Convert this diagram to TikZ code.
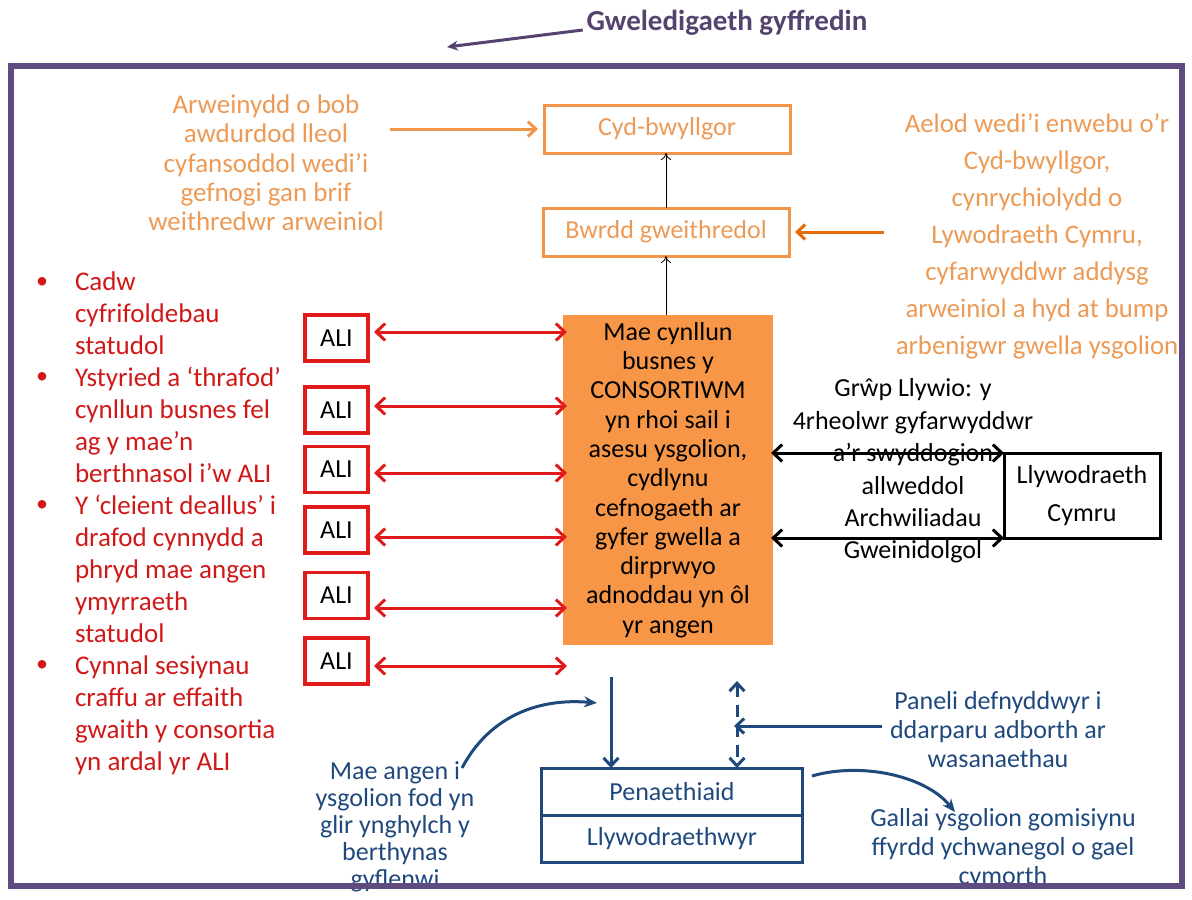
\documentclass[tikz,border=0pt]{standalone}
\usepackage{fontspec}
\setmainfont{Carlito}
\usetikzlibrary{arrows.meta}
\definecolor{framec}{HTML}{5E4B80}
\definecolor{ttlc}{HTML}{54436F}
\definecolor{orgfill}{HTML}{F79646}
\definecolor{orgtxt}{HTML}{EC9A55}
\definecolor{orgbox}{HTML}{F0954A}
\definecolor{orgdark}{HTML}{E46C0A}
\definecolor{redl}{HTML}{E01B1B}
\definecolor{redt}{HTML}{D01818}
\definecolor{blu}{HTML}{1F497D}
\begin{document}
\begin{tikzpicture}[x=1pt,y=-1pt,
  every node/.style={inner sep=0pt,outer sep=0pt},
  otextL/.style={text=orgtxt,font=\fontsize{27}{29.3}\selectfont,align=center},
  otextR/.style={text=orgtxt,font=\fontsize{26.8}{37}\selectfont,align=center},
  obox/.style={draw=orgbox,line width=3pt,text=orgtxt,font=\fontsize{26}{30}\selectfont,minimum width=246pt,minimum height=48pt},
  oarrow/.style={draw=orgbox,line width=3pt,-{Straight Barb[length=8pt,width=15pt]}},
  odarrow/.style={draw=orgdark,line width=3pt,-{Straight Barb[length=8pt,width=15pt]}},
  thinarrow/.style={draw=black,line width=0.8pt,-{To[length=7pt,width=10pt]}},
  redarrow/.style={draw=redl,line width=3pt,{Straight Barb[length=9pt,width=17pt]}-{Straight Barb[length=9pt,width=17pt]}},
  alibox/.style={draw=redl,line width=3.2pt,minimum width=63pt,minimum height=46pt,font=\fontsize{26}{30}\selectfont},
  blkarrow/.style={draw=black,line width=3pt,{Straight Barb[length=9pt,width=17pt]}-{Straight Barb[length=9pt,width=17pt]}},
  btext/.style={text=blu,font=\fontsize{26}{29}\selectfont,align=center},
  bbox/.style={draw=blu,line width=3pt,text=blu,font=\fontsize{26}{30}\selectfont,minimum width=261pt,minimum height=47pt},
  barrow/.style={draw=blu,line width=3pt,-{Straight Barb[length=8pt,width=15pt]}},
  bcurve/.style={draw=blu,line width=3pt,-{Stealth[length=13pt,width=11pt]}}
]
\useasboundingbox (0,0) rectangle (1192,900);

% title
\node[font=\fontsize{29}{34}\selectfont\bfseries,text=ttlc] (title) at (727,23) {Gweledigaeth gyffredin};
\coordinate (ttltip) at (447,47);
\draw[ttlc,line width=3pt,-{Stealth[length=11pt,width=10pt]}] ([xshift=-4pt,yshift=-7pt]title.west) -- (ttltip);

% orange part
\node[otextL] (lead) at (266,163) {Arweinydd o bob\\awdurdod lleol\\cyfansoddol wedi’i\\gefnogi gan brif\\weithredwr arweiniol};
\node[obox] (cyd) at (667,129) {Cyd-bwyllgor};
\node[obox] (bwrdd) at (666,232) {Bwrdd gweithredol};
\draw[oarrow] ([xshift=6pt]lead.east |- cyd.west) -- ([xshift=-6pt]cyd.west);

\node[fill=orgfill,minimum width=210pt,minimum height=330pt,align=center,font=\fontsize{26}{29.3}\selectfont] (cons) at (668,480)
  {Mae cynllun\\busnes y\\CONSORTIWM\\yn rhoi sail i\\asesu ysgolion,\\cydlynu\\cefnogaeth ar\\gyfer gwella a\\dirprwyo\\adnoddau yn ôl\\yr angen};

\draw[thinarrow] (bwrdd.south |- cons.north) -- (bwrdd.south);
\draw[thinarrow] (bwrdd.north) -- (bwrdd.north |- cyd.south);

\node[otextR] (member) at (1037,236) {Aelod wedi’i enwebu o’r\\Cyd-bwyllgor,\\cynrychiolydd o\\Lywodraeth Cymru,\\cyfarwyddwr addysg\\arweiniol a hyd at bump\\arbenigwr gwella ysgolion};
\draw[odarrow] ([xshift=-12pt]member.west |- bwrdd.east) -- ([xshift=6pt]bwrdd.east);

% red duties
\node[text=redt,font=\fontsize{27}{32}\selectfont,align=left,anchor=west] (duties) at (75,523)
  {Cadw\\cyfrifoldebau\\statudol\\Ystyried a ‘thrafod’\\cynllun busnes fel\\ag y mae’n\\berthnasol i’w ALI\\Y ‘cleient deallus’ i\\drafod cynnydd a\\phryd mae angen\\ymyrraeth\\statudol\\Cynnal sesiynau\\craffu ar effaith\\gwaith y consortia\\yn ardal yr ALI};
\foreach \n/\y in {1/283,2/378,3/506,4/666}
  \node[text=redt,font=\fontsize{24}{28}\selectfont] (bul\n) at (42,\y) {•};

% ALI boxes
\foreach \i/\by/\ay in {1/338/332,2/410/406,3/469.5/473,4/530/537,5/595.5/608,6/661/666}{
  \node[alibox] (ali\i) at (336.5,\by) {ALI};
  \draw[redarrow,shorten <=6pt,shorten >=-4pt] (ali\i.east |- 0,\ay) -- (cons.west |- 0,\ay);
}

% government
\node[font=\fontsize{26}{32.4}\selectfont,align=center] (grp) at (913,471)
  {Grŵp Llywio: y\\4rheolwr gyfarwyddwr\\a’r swyddogion\\allweddol\\Archwiliadau\\Gweinidolgol};
\node[draw=black,line width=3pt,minimum width=156pt,minimum height=85pt,align=center,font=\fontsize{26}{38}\selectfont] (gov) at (1082,495.5) {Llywodraeth\\Cymru};
\draw[blkarrow,shorten <=-2pt] (cons.east |- gov.north west) -- (gov.north west);
\draw[blkarrow,shorten <=-2pt] (cons.east |- gov.south west) -- (gov.south west);

% blue part
\node[bbox] (pen) at (672,791.5) {Penaethiaid};
\node[bbox] (llyw) at (672,838.5) {Llywodraethwyr};
\coordinate (dtop) at (611,677);
\draw[barrow] (dtop) -- (pen.north -| dtop);
\coordinate (dashtop) at (737,681);
\draw[draw=blu,line width=3pt,dash pattern=on 12pt off 8pt,{Straight Barb[length=8pt,width=15pt]}-{Straight Barb[length=8pt,width=15pt]}] (dashtop) -- (pen.north -| dashtop);

\node[btext,font=\fontsize{26}{29}\selectfont] (panel) at (998,730) {Paneli defnyddwyr i\\ddarparu adborth ar\\wasanaethau};
\draw[barrow,shorten >=-3pt] ([xshift=-8pt]panel.west |- 0,726) -- (dashtop |- 0,726);

\node[btext,font=\fontsize{26}{27}\selectfont] (need) at (395,827) {Mae angen i\\ysgolion fod yn\\glir ynghylch y\\berthynas\\gyflenwi};
\coordinate (c1s) at (462,768);
\coordinate (c1e) at (597,703);
\draw[bcurve] (c1s) .. controls (490,715) and (540,698) .. (c1e);

\node[btext,font=\fontsize{26}{29}\selectfont] (gallai) at (1003,849) {Gallai ysgolion gomisiynu\\ffyrdd ychwanegol o gael\\cymorth};
\coordinate (c2s) at (812,776);
\coordinate (c2e) at (955,812);
\draw[bcurve] (c2s) .. controls (860,762) and (925,775) .. (c2e);

% frame
\draw[framec,line width=6pt] (11,66) rectangle (1182,886);
\end{tikzpicture}
\end{document}
